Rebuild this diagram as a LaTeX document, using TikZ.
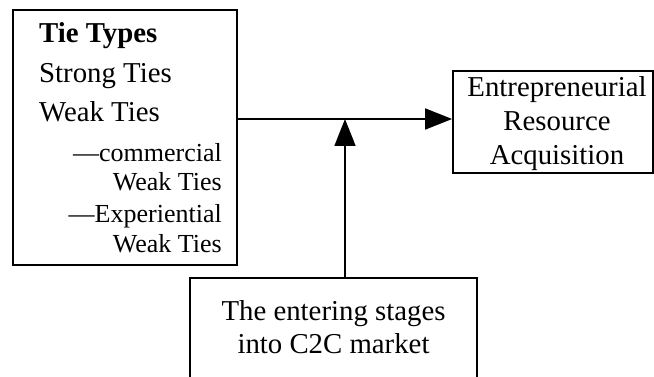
\documentclass[tikz,border=0pt]{standalone}
\usepackage{fontspec}
\setmainfont{Liberation Serif}
\usetikzlibrary{arrows.meta}

\begin{document}
\begin{tikzpicture}[x=1pt,y=-1pt,
  box/.style={draw,line width=1.8pt,inner sep=0pt},
  big/.style={font=\fontsize{28.8}{34}\selectfont,inner sep=0pt},
  small/.style={font=\fontsize{26}{30}\selectfont,inner sep=0pt},
  link/.style={line width=1.8pt,-{Triangle[length=27pt,width=21pt]}}]
\clip (0,0) rectangle (654,377);
% boxes
\node [box,minimum width=224pt,minimum height=255pt] (ties)  at (125,137.5) {};
\node [box,minimum width=200pt,minimum height=102pt] (res)   at (553,122)   {};
\node [box,minimum width=287pt,minimum height=140pt] (stage) at (333.5,348) {};
% tie types
\node [big,anchor=base west]   (tt) at (39,43)   {\textbf{Tie Types}};
\node [big,anchor=base west]   (st) at (39,83)   {Strong Ties};
\node [big,anchor=base west]   (wt) at (39,122)  {Weak Ties};
\node [small,anchor=base east] (cw) at (222,162) {---commercial};
\node [small,anchor=base east] (cx) at (222,191) {Weak Ties};
\node [small,anchor=base east] (ew) at (222,223) {---Experiential};
\node [small,anchor=base east] (ex) at (222,252) {Weak Ties};
% other texts
\node [big,align=center] (restext)   at (557,124)   {Entrepreneurial\\Resource\\Acquisition};
\node [big,align=center,font=\fontsize{28.8}{33}\selectfont] (stagetext) at (333.5,327) {The entering stages\\into C2C market};
% arrows
\coordinate (m) at (345,119);
\draw [link] (ties.east |- m) -- (res.west |- m);
\draw [link] (stage.north -| m) -- (m);
\end{tikzpicture}
\end{document}
